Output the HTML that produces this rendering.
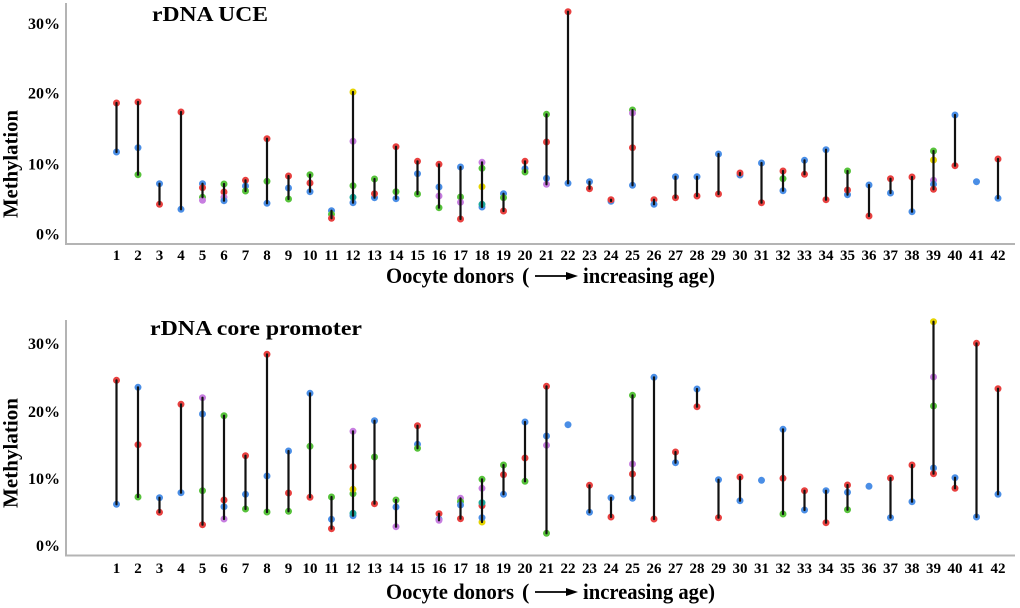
<!DOCTYPE html>
<html><head><meta charset="utf-8"><style>
html,body{margin:0;padding:0;background:#fff;}
svg{display:block;}
text{font-family:"Liberation Serif","Times New Roman",serif;font-weight:bold;fill:#000;}
.r{fill:#e8403f}.b{fill:#4a8ee6}.g{fill:#56c23a}.p{fill:#c77de0}.y{fill:#e5d400}.t{fill:#1aa89c}
circle{r:3.5px}
.ln{stroke:#111;stroke-width:2.2;stroke-linecap:round}
.ax{stroke:#b4b4b4;stroke-width:2;fill:none}
.tk{font-size:15px;text-anchor:middle}
.yl{font-size:16px;text-anchor:end}
</style></head><body>
<svg width="1020" height="608" viewBox="0 0 1020 608" xmlns="http://www.w3.org/2000/svg">
<rect width="1020" height="608" fill="#fff"/>

<!-- ============ TOP CHART ============ -->
<path class="ax" d="M66 3 V244 H1015"/>
<text x="152" y="21" font-size="21" textLength="116" lengthAdjust="spacingAndGlyphs">rDNA UCE</text>
<text class="yl" x="60" y="29">30%</text>
<text class="yl" x="60" y="98.5">20%</text>
<text class="yl" x="60" y="169.5">10%</text>
<text class="yl" x="60" y="239.5">0%</text>
<text transform="translate(17.5,164) rotate(-90)" text-anchor="middle" font-size="21" textLength="108" lengthAdjust="spacingAndGlyphs">Methylation</text>

<g>
<circle class="r" cx="116.5" cy="103" r="3.5"/><circle class="b" cx="116.5" cy="152" r="3.5"/>
<circle class="r" cx="138" cy="102" r="3.5"/><circle class="b" cx="138" cy="147.7" r="3.5"/><circle class="g" cx="138" cy="174.7" r="3.5"/>
<circle class="b" cx="159.5" cy="183.7" r="3.5"/><circle class="r" cx="159.5" cy="204.3" r="3.5"/>
<circle class="r" cx="181" cy="112" r="3.5"/><circle class="b" cx="181" cy="209.3" r="3.5"/>
<circle class="b" cx="202.5" cy="183.7" r="3.5"/><circle class="r" cx="202.5" cy="187.7" r="3.5"/><circle class="g" cx="202.5" cy="197.3" r="3.5"/><circle class="p" cx="202.5" cy="200.3" r="3.5"/>
<circle class="g" cx="224" cy="184" r="3.5"/><circle class="r" cx="224" cy="192" r="3.5"/><circle class="p" cx="224" cy="197.3" r="3.5"/><circle class="b" cx="224" cy="200.7" r="3.5"/>
<circle class="r" cx="245.5" cy="180.3" r="3.5"/><circle class="b" cx="245.5" cy="186" r="3.5"/><circle class="g" cx="245.5" cy="191" r="3.5"/>
<circle class="r" cx="267" cy="138.7" r="3.5"/><circle class="g" cx="267" cy="181.3" r="3.5"/><circle class="b" cx="267" cy="203.3" r="3.5"/>
<circle class="r" cx="288.5" cy="176" r="3.5"/><circle class="b" cx="288.5" cy="188" r="3.5"/><circle class="g" cx="288.5" cy="199" r="3.5"/>
<circle class="g" cx="310" cy="174.7" r="3.5"/><circle class="r" cx="310" cy="183" r="3.5"/><circle class="b" cx="310" cy="191.7" r="3.5"/>
<circle class="b" cx="331.5" cy="210.7" r="3.5"/><circle class="g" cx="331.5" cy="214.3" r="3.5"/><circle class="r" cx="331.5" cy="218.3" r="3.5"/>
<circle class="y" cx="353" cy="92" r="3.5"/><circle class="p" cx="353" cy="141.3" r="3.5"/><circle class="g" cx="353" cy="185.7" r="3.5"/><circle class="b" cx="353" cy="202.7" r="3.5"/><circle class="t" cx="353" cy="197.3" r="3.5"/>
<circle class="g" cx="374.5" cy="179" r="3.5"/><circle class="b" cx="374.5" cy="197.7" r="3.5"/><circle class="r" cx="374.5" cy="193.7" r="3.5"/>
<circle class="r" cx="396" cy="146.7" r="3.5"/><circle class="g" cx="396" cy="191.7" r="3.5"/><circle class="b" cx="396" cy="198.7" r="3.5"/>
<circle class="r" cx="417.5" cy="161.3" r="3.5"/><circle class="b" cx="417.5" cy="173.7" r="3.5"/><circle class="g" cx="417.5" cy="194" r="3.5"/>
<circle class="r" cx="439" cy="164.3" r="3.5"/><circle class="b" cx="439" cy="187" r="3.5"/><circle class="p" cx="439" cy="196" r="3.5"/><circle class="g" cx="439" cy="207.7" r="3.5"/>
<circle class="b" cx="460.5" cy="167" r="3.5"/><circle class="g" cx="460.5" cy="197" r="3.5"/><circle class="p" cx="460.5" cy="202.3" r="3.5"/><circle class="r" cx="460.5" cy="219" r="3.5"/>
<circle class="p" cx="482" cy="162.3" r="3.5"/><circle class="g" cx="482" cy="168.3" r="3.5"/><circle class="y" cx="482" cy="186.7" r="3.5"/><circle class="b" cx="482" cy="207" r="3.5"/><circle class="t" cx="482" cy="204.3" r="3.5"/>
<circle class="b" cx="503.5" cy="193.7" r="3.5"/><circle class="g" cx="503.5" cy="197.7" r="3.5"/><circle class="r" cx="503.5" cy="211" r="3.5"/>
<circle class="r" cx="525" cy="161.3" r="3.5"/><circle class="b" cx="525" cy="168.7" r="3.5"/><circle class="g" cx="525" cy="172" r="3.5"/>
<circle class="g" cx="546.5" cy="114.3" r="3.5"/><circle class="r" cx="546.5" cy="142" r="3.5"/><circle class="p" cx="546.5" cy="184.3" r="3.5"/><circle class="b" cx="546.5" cy="178.3" r="3.5"/>
<circle class="r" cx="568" cy="11.7" r="3.5"/><circle class="b" cx="568" cy="183.3" r="3.5"/>
<circle class="b" cx="589.5" cy="181.7" r="3.5"/><circle class="r" cx="589.5" cy="188.7" r="3.5"/>
<circle class="b" cx="611" cy="201.3" r="3.5"/><circle class="r" cx="611" cy="199.7" r="3.5"/>
<circle class="g" cx="632.5" cy="110" r="3.5"/><circle class="p" cx="632.5" cy="113" r="3.5"/><circle class="r" cx="632.5" cy="147.7" r="3.5"/><circle class="b" cx="632.5" cy="185.3" r="3.5"/>
<circle class="r" cx="654" cy="199.7" r="3.5"/><circle class="b" cx="654" cy="204.3" r="3.5"/>
<circle class="b" cx="675.5" cy="176.7" r="3.5"/><circle class="r" cx="675.5" cy="197.7" r="3.5"/>
<circle class="b" cx="697" cy="176.7" r="3.5"/><circle class="r" cx="697" cy="196" r="3.5"/>
<circle class="b" cx="718.5" cy="154" r="3.5"/><circle class="r" cx="718.5" cy="194" r="3.5"/>
<circle class="b" cx="740" cy="175" r="3.5"/><circle class="r" cx="740" cy="173" r="3.5"/>
<circle class="b" cx="761.5" cy="163" r="3.5"/><circle class="r" cx="761.5" cy="202.7" r="3.5"/>
<circle class="r" cx="783" cy="171" r="3.5"/><circle class="g" cx="783" cy="178.7" r="3.5"/><circle class="b" cx="783" cy="190.7" r="3.5"/>
<circle class="b" cx="804.5" cy="160.3" r="3.5"/><circle class="r" cx="804.5" cy="174.3" r="3.5"/>
<circle class="b" cx="826" cy="149.7" r="3.5"/><circle class="r" cx="826" cy="199.7" r="3.5"/>
<circle class="g" cx="847.5" cy="171" r="3.5"/><circle class="b" cx="847.5" cy="194.7" r="3.5"/><circle class="r" cx="847.5" cy="190" r="3.5"/>
<circle class="b" cx="869" cy="185" r="3.5"/><circle class="r" cx="869" cy="216" r="3.5"/>
<circle class="r" cx="890.5" cy="178.7" r="3.5"/><circle class="b" cx="890.5" cy="193" r="3.5"/>
<circle class="r" cx="912" cy="177" r="3.5"/><circle class="b" cx="912" cy="211.7" r="3.5"/>
<circle class="g" cx="933.5" cy="151" r="3.5"/><circle class="y" cx="933.5" cy="160" r="3.5"/><circle class="p" cx="933.5" cy="180.3" r="3.5"/><circle class="b" cx="933.5" cy="184.3" r="3.5"/><circle class="r" cx="933.5" cy="189.3" r="3.5"/>
<circle class="b" cx="955" cy="115" r="3.5"/><circle class="r" cx="955" cy="165.7" r="3.5"/>
<circle class="b" cx="976.5" cy="181.7" r="3.7"/>
<circle class="r" cx="998" cy="159" r="3.5"/><circle class="b" cx="998" cy="198.3" r="3.5"/>
</g>
<g class="ln">
<line x1="116.5" y1="103" x2="116.5" y2="152"/>
<line x1="138" y1="102" x2="138" y2="174.7"/>
<line x1="159.5" y1="183.7" x2="159.5" y2="204.3"/>
<line x1="181" y1="112" x2="181" y2="209.3"/>
<line x1="202.5" y1="183.7" x2="202.5" y2="197.3"/>
<line x1="224" y1="184" x2="224" y2="200.7"/>
<line x1="245.5" y1="180.3" x2="245.5" y2="191"/>
<line x1="267" y1="138.7" x2="267" y2="203.3"/>
<line x1="288.5" y1="176" x2="288.5" y2="199"/>
<line x1="310" y1="174.7" x2="310" y2="191.7"/>
<line x1="331.5" y1="210.7" x2="331.5" y2="218.3"/>
<line x1="353" y1="92" x2="353" y2="202.7"/>
<line x1="374.5" y1="179" x2="374.5" y2="197.7"/>
<line x1="396" y1="146.7" x2="396" y2="198.7"/>
<line x1="417.5" y1="161.3" x2="417.5" y2="194"/>
<line x1="439" y1="164.3" x2="439" y2="207.7"/>
<line x1="460.5" y1="167" x2="460.5" y2="219"/>
<line x1="482" y1="162.3" x2="482" y2="207"/>
<line x1="503.5" y1="193.7" x2="503.5" y2="211"/>
<line x1="525" y1="161.3" x2="525" y2="172"/>
<line x1="546.5" y1="114.3" x2="546.5" y2="184.3"/>
<line x1="568" y1="11.7" x2="568" y2="183.3"/>
<line x1="589.5" y1="181.7" x2="589.5" y2="188.7"/>
<line x1="611" y1="199.7" x2="611" y2="201"/>
<line x1="632.5" y1="110" x2="632.5" y2="185.3"/>
<line x1="654" y1="199.7" x2="654" y2="204.3"/>
<line x1="675.5" y1="176.7" x2="675.5" y2="197.7"/>
<line x1="697" y1="176.7" x2="697" y2="196"/>
<line x1="718.5" y1="154" x2="718.5" y2="194"/>
<line x1="740" y1="173" x2="740" y2="175"/>
<line x1="761.5" y1="163" x2="761.5" y2="202.7"/>
<line x1="783" y1="171" x2="783" y2="190.7"/>
<line x1="804.5" y1="160.3" x2="804.5" y2="174.3"/>
<line x1="826" y1="149.7" x2="826" y2="199.7"/>
<line x1="847.5" y1="171" x2="847.5" y2="194.7"/>
<line x1="869" y1="185" x2="869" y2="216"/>
<line x1="890.5" y1="178.7" x2="890.5" y2="193"/>
<line x1="912" y1="177" x2="912" y2="211.7"/>
<line x1="933.5" y1="151" x2="933.5" y2="189.3"/>
<line x1="955" y1="115" x2="955" y2="165.7"/>
<line x1="998" y1="159" x2="998" y2="198.3"/>
</g>

<g class="tk">
<text x="116.5" y="260">1</text><text x="138" y="260">2</text><text x="159.5" y="260">3</text><text x="181" y="260">4</text><text x="202.5" y="260">5</text><text x="224" y="260">6</text><text x="245.5" y="260">7</text><text x="267" y="260">8</text><text x="288.5" y="260">9</text><text x="310" y="260">10</text><text x="331.5" y="260">11</text><text x="353" y="260">12</text><text x="374.5" y="260">13</text><text x="396" y="260">14</text><text x="417.5" y="260">15</text><text x="439" y="260">16</text><text x="460.5" y="260">17</text><text x="482" y="260">18</text><text x="503.5" y="260">19</text><text x="525" y="260">20</text><text x="546.5" y="260">21</text><text x="568" y="260">22</text><text x="589.5" y="260">23</text><text x="611" y="260">24</text><text x="632.5" y="260">25</text><text x="654" y="260">26</text><text x="675.5" y="260">27</text><text x="697" y="260">28</text><text x="718.5" y="260">29</text><text x="740" y="260">30</text><text x="761.5" y="260">31</text><text x="783" y="260">32</text><text x="804.5" y="260">33</text><text x="826" y="260">34</text><text x="847.5" y="260">35</text><text x="869" y="260">36</text><text x="890.5" y="260">37</text><text x="912" y="260">38</text><text x="933.5" y="260">39</text><text x="955" y="260">40</text><text x="976.5" y="260">41</text><text x="998" y="260">42</text>
</g>
<text x="386" y="283" font-size="22" textLength="128" lengthAdjust="spacingAndGlyphs">Oocyte donors</text>
<text x="522" y="283" font-size="22">(</text>
<line x1="535" y1="276" x2="570" y2="276" stroke="#000" stroke-width="1.8"/>
<polygon points="566,272 578,276 566,280" fill="#000"/>
<text x="583" y="283" font-size="22" textLength="132" lengthAdjust="spacingAndGlyphs">increasing age)</text>

<!-- ============ BOTTOM CHART ============ -->
<path class="ax" d="M66 320 V555.5 H1015"/>
<text x="150" y="335" font-size="21" textLength="212" lengthAdjust="spacingAndGlyphs">rDNA core promoter</text>
<text class="yl" x="60" y="349">30%</text>
<text class="yl" x="60" y="417">20%</text>
<text class="yl" x="60" y="484">10%</text>
<text class="yl" x="60" y="551">0%</text>
<text transform="translate(17.5,453) rotate(-90)" text-anchor="middle" font-size="21" textLength="110" lengthAdjust="spacingAndGlyphs">Methylation</text>

<g>
<circle class="r" cx="116.5" cy="380.3" r="3.5"/><circle class="b" cx="116.5" cy="504.3" r="3.5"/>
<circle class="b" cx="138" cy="387.3" r="3.5"/><circle class="r" cx="138" cy="444.7" r="3.5"/><circle class="g" cx="138" cy="497" r="3.5"/>
<circle class="b" cx="159.5" cy="497.7" r="3.5"/><circle class="r" cx="159.5" cy="512.3" r="3.5"/>
<circle class="r" cx="181" cy="404.3" r="3.5"/><circle class="b" cx="181" cy="492.7" r="3.5"/>
<circle class="p" cx="202.5" cy="397.7" r="3.5"/><circle class="b" cx="202.5" cy="414" r="3.5"/><circle class="g" cx="202.5" cy="490.7" r="3.5"/><circle class="r" cx="202.5" cy="524.7" r="3.5"/>
<circle class="g" cx="224" cy="415.7" r="3.5"/><circle class="r" cx="224" cy="500" r="3.5"/><circle class="b" cx="224" cy="506.7" r="3.5"/><circle class="p" cx="224" cy="519" r="3.5"/>
<circle class="r" cx="245.5" cy="455.7" r="3.5"/><circle class="b" cx="245.5" cy="494.3" r="3.5"/><circle class="g" cx="245.5" cy="509" r="3.5"/>
<circle class="r" cx="267" cy="354.3" r="3.5"/><circle class="b" cx="267" cy="476" r="3.5"/><circle class="g" cx="267" cy="512" r="3.5"/>
<circle class="b" cx="288.5" cy="451" r="3.5"/><circle class="r" cx="288.5" cy="493" r="3.5"/><circle class="g" cx="288.5" cy="511.3" r="3.5"/>
<circle class="b" cx="310" cy="393.3" r="3.5"/><circle class="g" cx="310" cy="446.3" r="3.5"/><circle class="r" cx="310" cy="497.3" r="3.5"/>
<circle class="g" cx="331.5" cy="497" r="3.5"/><circle class="b" cx="331.5" cy="519.3" r="3.5"/><circle class="r" cx="331.5" cy="528.7" r="3.5"/>
<circle class="p" cx="353" cy="431.3" r="3.5"/><circle class="r" cx="353" cy="466.7" r="3.5"/><circle class="g" cx="353" cy="493.7" r="3.5"/><circle class="y" cx="353" cy="489.3" r="3.5"/><circle class="b" cx="353" cy="515.7" r="3.5"/><circle class="t" cx="353" cy="513.3" r="3.5"/>
<circle class="b" cx="374.5" cy="420.7" r="3.5"/><circle class="g" cx="374.5" cy="457" r="3.5"/><circle class="r" cx="374.5" cy="503.7" r="3.5"/>
<circle class="g" cx="396" cy="500" r="3.5"/><circle class="b" cx="396" cy="507" r="3.5"/><circle class="p" cx="396" cy="526.7" r="3.5"/>
<circle class="r" cx="417.5" cy="425.7" r="3.5"/><circle class="b" cx="417.5" cy="444.3" r="3.5"/><circle class="g" cx="417.5" cy="448.3" r="3.5"/>
<circle class="r" cx="439" cy="513.7" r="3.5"/><circle class="b" cx="439" cy="519.3" r="3.5"/><circle class="p" cx="439" cy="520.3" r="3.5"/>
<circle class="p" cx="460.5" cy="498.3" r="3.5"/><circle class="g" cx="460.5" cy="501.7" r="3.5"/><circle class="b" cx="460.5" cy="505" r="3.5"/><circle class="r" cx="460.5" cy="518.7" r="3.5"/>
<circle class="g" cx="482" cy="479.3" r="3.5"/><circle class="p" cx="482" cy="488.3" r="3.5"/><circle class="r" cx="482" cy="505.7" r="3.5"/><circle class="t" cx="482" cy="502.7" r="3.5"/><circle class="y" cx="482" cy="522" r="3.5"/><circle class="b" cx="482" cy="517.7" r="3.5"/>
<circle class="g" cx="503.5" cy="465" r="3.5"/><circle class="r" cx="503.5" cy="474.7" r="3.5"/><circle class="b" cx="503.5" cy="494.3" r="3.5"/>
<circle class="b" cx="525" cy="422" r="3.5"/><circle class="r" cx="525" cy="458" r="3.5"/><circle class="g" cx="525" cy="481.3" r="3.5"/>
<circle class="r" cx="546.5" cy="386.3" r="3.5"/><circle class="b" cx="546.5" cy="436" r="3.5"/><circle class="p" cx="546.5" cy="445.3" r="3.5"/><circle class="g" cx="546.5" cy="533.3" r="3.5"/>
<circle class="b" cx="568" cy="424.7" r="3.7"/>
<circle class="r" cx="589.5" cy="485.3" r="3.5"/><circle class="b" cx="589.5" cy="512.3" r="3.5"/>
<circle class="b" cx="611" cy="497.7" r="3.5"/><circle class="r" cx="611" cy="517" r="3.5"/>
<circle class="g" cx="632.5" cy="395.3" r="3.5"/><circle class="p" cx="632.5" cy="464" r="3.5"/><circle class="r" cx="632.5" cy="474" r="3.5"/><circle class="b" cx="632.5" cy="498.3" r="3.5"/>
<circle class="b" cx="654" cy="377.3" r="3.5"/><circle class="r" cx="654" cy="519" r="3.5"/>
<circle class="r" cx="675.5" cy="452" r="3.5"/><circle class="b" cx="675.5" cy="462.7" r="3.5"/>
<circle class="b" cx="697" cy="389" r="3.5"/><circle class="r" cx="697" cy="406.7" r="3.5"/>
<circle class="b" cx="718.5" cy="479.7" r="3.5"/><circle class="r" cx="718.5" cy="517.7" r="3.5"/>
<circle class="r" cx="740" cy="477" r="3.5"/><circle class="b" cx="740" cy="500.7" r="3.5"/>
<circle class="b" cx="761.5" cy="480.3" r="3.7"/>
<circle class="b" cx="783" cy="429.3" r="3.5"/><circle class="r" cx="783" cy="478.3" r="3.5"/><circle class="g" cx="783" cy="514" r="3.5"/>
<circle class="r" cx="804.5" cy="490.7" r="3.5"/><circle class="b" cx="804.5" cy="510" r="3.5"/>
<circle class="b" cx="826" cy="490.7" r="3.5"/><circle class="r" cx="826" cy="522.7" r="3.5"/>
<circle class="r" cx="847.5" cy="485" r="3.5"/><circle class="b" cx="847.5" cy="492.3" r="3.5"/><circle class="g" cx="847.5" cy="509.7" r="3.5"/>
<circle class="b" cx="869" cy="486.3" r="3.7"/>
<circle class="r" cx="890.5" cy="478" r="3.5"/><circle class="b" cx="890.5" cy="517.7" r="3.5"/>
<circle class="r" cx="912" cy="465" r="3.5"/><circle class="b" cx="912" cy="501.7" r="3.5"/>
<circle class="y" cx="933.5" cy="321.7" r="3.5"/><circle class="p" cx="933.5" cy="377" r="3.5"/><circle class="g" cx="933.5" cy="406" r="3.5"/><circle class="b" cx="933.5" cy="468" r="3.5"/><circle class="r" cx="933.5" cy="473.7" r="3.5"/>
<circle class="b" cx="955" cy="477.7" r="3.5"/><circle class="r" cx="955" cy="488.3" r="3.5"/>
<circle class="r" cx="976.5" cy="343.3" r="3.5"/><circle class="b" cx="976.5" cy="517" r="3.5"/>
<circle class="r" cx="998" cy="388.7" r="3.5"/><circle class="b" cx="998" cy="494.3" r="3.5"/>
</g>
<g class="ln">
<line x1="116.5" y1="380.3" x2="116.5" y2="504.3"/>
<line x1="138" y1="387.3" x2="138" y2="497"/>
<line x1="159.5" y1="497.7" x2="159.5" y2="512.3"/>
<line x1="181" y1="404.3" x2="181" y2="492.7"/>
<line x1="202.5" y1="397.7" x2="202.5" y2="524.7"/>
<line x1="224" y1="415.7" x2="224" y2="519"/>
<line x1="245.5" y1="455.7" x2="245.5" y2="509"/>
<line x1="267" y1="354.3" x2="267" y2="512"/>
<line x1="288.5" y1="451" x2="288.5" y2="511.3"/>
<line x1="310" y1="393.3" x2="310" y2="497.3"/>
<line x1="331.5" y1="497" x2="331.5" y2="528.7"/>
<line x1="353" y1="431.3" x2="353" y2="515.7"/>
<line x1="374.5" y1="420.7" x2="374.5" y2="503.7"/>
<line x1="396" y1="500" x2="396" y2="526.7"/>
<line x1="417.5" y1="425.7" x2="417.5" y2="448.3"/>
<line x1="439" y1="513.7" x2="439" y2="520.3"/>
<line x1="460.5" y1="498.3" x2="460.5" y2="518.7"/>
<line x1="482" y1="479.3" x2="482" y2="522"/>
<line x1="503.5" y1="465" x2="503.5" y2="494.3"/>
<line x1="525" y1="422" x2="525" y2="481.3"/>
<line x1="546.5" y1="386.3" x2="546.5" y2="533.3"/>
<line x1="589.5" y1="485.3" x2="589.5" y2="512.3"/>
<line x1="611" y1="497.7" x2="611" y2="517"/>
<line x1="632.5" y1="395.3" x2="632.5" y2="498.3"/>
<line x1="654" y1="377.3" x2="654" y2="519"/>
<line x1="675.5" y1="452" x2="675.5" y2="462.7"/>
<line x1="697" y1="389" x2="697" y2="406.7"/>
<line x1="718.5" y1="479.7" x2="718.5" y2="517.7"/>
<line x1="740" y1="477" x2="740" y2="500.7"/>
<line x1="783" y1="429.3" x2="783" y2="514"/>
<line x1="804.5" y1="490.7" x2="804.5" y2="510"/>
<line x1="826" y1="490.7" x2="826" y2="522.7"/>
<line x1="847.5" y1="485" x2="847.5" y2="509.7"/>
<line x1="890.5" y1="478" x2="890.5" y2="517.7"/>
<line x1="912" y1="465" x2="912" y2="501.7"/>
<line x1="933.5" y1="321.7" x2="933.5" y2="473.7"/>
<line x1="955" y1="477.7" x2="955" y2="488.3"/>
<line x1="976.5" y1="343.3" x2="976.5" y2="517"/>
<line x1="998" y1="388.7" x2="998" y2="494.3"/>
</g>

<g class="tk">
<text x="116.5" y="573">1</text><text x="138" y="573">2</text><text x="159.5" y="573">3</text><text x="181" y="573">4</text><text x="202.5" y="573">5</text><text x="224" y="573">6</text><text x="245.5" y="573">7</text><text x="267" y="573">8</text><text x="288.5" y="573">9</text><text x="310" y="573">10</text><text x="331.5" y="573">11</text><text x="353" y="573">12</text><text x="374.5" y="573">13</text><text x="396" y="573">14</text><text x="417.5" y="573">15</text><text x="439" y="573">16</text><text x="460.5" y="573">17</text><text x="482" y="573">18</text><text x="503.5" y="573">19</text><text x="525" y="573">20</text><text x="546.5" y="573">21</text><text x="568" y="573">22</text><text x="589.5" y="573">23</text><text x="611" y="573">24</text><text x="632.5" y="573">25</text><text x="654" y="573">26</text><text x="675.5" y="573">27</text><text x="697" y="573">28</text><text x="718.5" y="573">29</text><text x="740" y="573">30</text><text x="761.5" y="573">31</text><text x="783" y="573">32</text><text x="804.5" y="573">33</text><text x="826" y="573">34</text><text x="847.5" y="573">35</text><text x="869" y="573">36</text><text x="890.5" y="573">37</text><text x="912" y="573">38</text><text x="933.5" y="573">39</text><text x="955" y="573">40</text><text x="976.5" y="573">41</text><text x="998" y="573">42</text>
</g>
<text x="386" y="599" font-size="22" textLength="128" lengthAdjust="spacingAndGlyphs">Oocyte donors</text>
<text x="522" y="599" font-size="22">(</text>
<line x1="535" y1="592" x2="570" y2="592" stroke="#000" stroke-width="1.8"/>
<polygon points="566,588 578,592 566,596" fill="#000"/>
<text x="583" y="599" font-size="22" textLength="132" lengthAdjust="spacingAndGlyphs">increasing age)</text>
</svg>
</body></html>
